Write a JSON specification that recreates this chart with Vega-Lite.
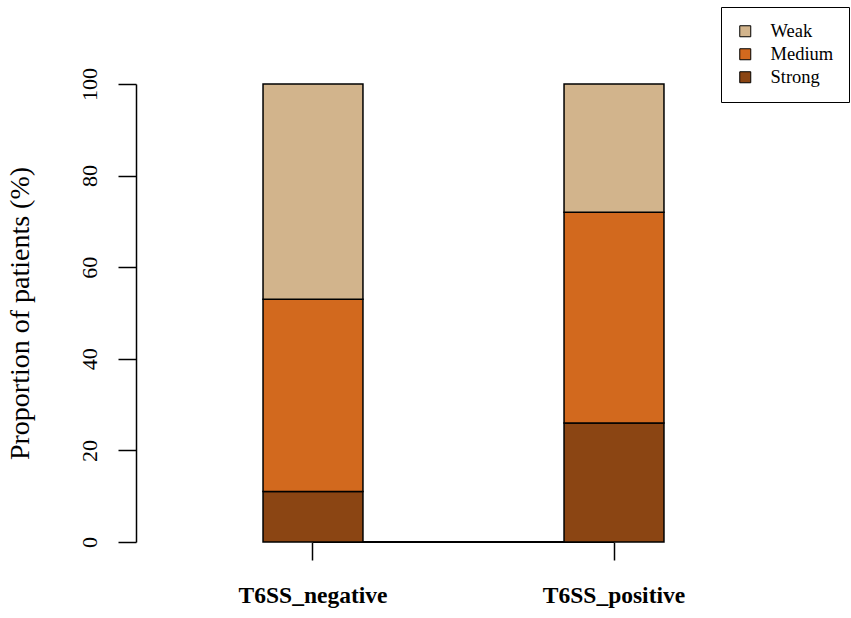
{
  "$schema": "https://vega.github.io/schema/vega-lite/v6.json",
  "description": "Proportion of patients by biofilm strength, T6SS negative vs positive",
  "autosize": "none",
  "width": 655,
  "height": 458,
  "padding": {"left": 136, "top": 84, "right": 60, "bottom": 76},
  "config": {
    "font": "Liberation Serif",
    "view": {"stroke": null},
    "axis": {"grid": false, "domainColor": "black", "tickColor": "black", "labelColor": "black", "titleColor": "black", "domainWidth": 1.5, "tickWidth": 1.5}
  },
  "data": {
    "values": [
      {"group": "T6SS_negative", "strength": "Strong", "rank": 1, "value": 11},
      {"group": "T6SS_negative", "strength": "Medium", "rank": 2, "value": 42},
      {"group": "T6SS_negative", "strength": "Weak", "rank": 3, "value": 47},
      {"group": "T6SS_positive", "strength": "Strong", "rank": 1, "value": 26},
      {"group": "T6SS_positive", "strength": "Medium", "rank": 2, "value": 46},
      {"group": "T6SS_positive", "strength": "Weak", "rank": 3, "value": 28}
    ]
  },
  "layer": [
    {
      "mark": {"type": "rule", "color": "black", "strokeWidth": 1.5},
      "encoding": {
        "x": {"datum": "T6SS_negative", "type": "nominal"},
        "x2": {"datum": "T6SS_positive"},
        "y": {"datum": 0, "type": "quantitative"}
      }
    },
    {
      "mark": {"type": "bar", "stroke": "black", "strokeWidth": 1.5},
      "encoding": {
        "x": {
          "field": "group",
          "type": "nominal",
          "scale": {"paddingInner": 0.668, "paddingOuter": 0.422},
          "axis": {
            "title": null,
            "domain": false,
            "tickSize": 18,
            "labelAngle": 0,
            "labelAlign": "center",
            "labelFontSize": 23.5,
            "labelFontWeight": "bold",
            "labelPadding": 23,
            "labelBaseline": "top"
          }
        },
        "y": {
          "field": "value",
          "type": "quantitative",
          "stack": "zero",
          "scale": {"domain": [0, 100], "nice": false},
          "axis": {
            "title": "Proportion of patients (%)",
            "titleFontSize": 28,
            "titleFontWeight": "normal",
            "titlePadding": 44,
            "values": [0, 20, 40, 60, 80, 100],
            "tickSize": 18,
            "labelAngle": -90,
            "labelAlign": "center",
            "labelBaseline": "bottom",
            "labelFontSize": 22,
            "labelPadding": 17
          }
        },
        "color": {
          "field": "strength",
          "type": "nominal",
          "scale": {"domain": ["Weak", "Medium", "Strong"], "range": ["#D2B48C", "#D2691E", "#8B4513"]},
          "legend": {
            "title": null,
            "orient": "none",
            "legendX": 585,
            "legendY": -77,
            "strokeColor": "black",
            "padding": 15,
            "symbolType": "square",
            "symbolSize": 121,
            "symbolStrokeColor": "black",
            "symbolStrokeWidth": 1,
            "labelFontSize": 18.5,
            "labelColor": "black",
            "labelOffset": 16,
            "rowPadding": 4
          }
        },
        "order": {"field": "rank", "type": "quantitative"}
      }
    }
  ]
}
